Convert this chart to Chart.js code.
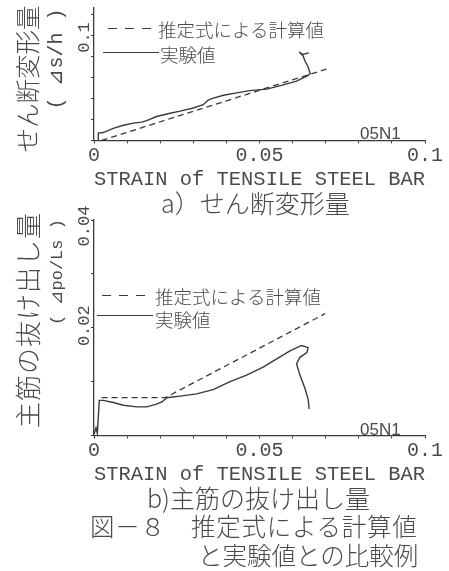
<!DOCTYPE html>
<html><head><meta charset="utf-8">
<script src="https://cdn.jsdelivr.net/npm/chart.js@4.4.1/dist/chart.umd.min.js"></script>
<style>
html,body{margin:0;padding:0;background:#fff;}
body{width:449px;height:571px;overflow:hidden;position:relative;color:#4a4a4a;}
canvas{position:absolute;left:0;}
.t{position:absolute;white-space:nowrap;line-height:1;transform:translateY(-50%);z-index:2;}
.jp{font-family:"Noto Sans CJK JP",sans-serif;font-weight:300;}
.mono{font-family:"Liberation Mono",monospace;}
.rot{position:absolute;white-space:nowrap;line-height:1;transform:translate(-50%,-50%) rotate(-90deg);z-index:2;}
.dash{position:absolute;height:1.4px;background:repeating-linear-gradient(to right,#3a3a3a 0 9px,transparent 9px 17px);z-index:2;}
.solid{position:absolute;height:1.4px;background:#3a3a3a;z-index:2;}
</style>
</head><body>
<canvas id="cA" width="449" height="192" style="top:0"></canvas>
<canvas id="cB" width="449" height="287" style="top:200px"></canvas>

<!-- chart a texts -->
<div class="rot jp" style="left:27px;top:79px;font-size:24.5px;">せん断変形量</div>
<div class="rot mono" style="left:57px;top:59px;font-size:20px;">( ⊿s/h )</div>
<div class="dash" style="left:108px;top:28px;width:48px;"></div>
<div class="t jp" style="left:158px;top:29px;font-size:18.5px;">推定式による計算値</div>
<div class="solid" style="left:103px;top:52px;width:56px;"></div>
<div class="t jp" style="left:160px;top:54px;font-size:18.5px;">実験値</div>
<div class="t" style="left:360px;top:133px;font-size:17px;font-family:'Liberation Sans',sans-serif;">05N1</div>
<div class="t jp" style="left:161px;top:202px;font-size:25px;">a）せん断変形量</div>

<!-- chart b texts -->
<div class="rot jp" style="left:27px;top:320px;font-size:26px;letter-spacing:1px;">主筋の抜け出し量</div>
<div class="rot mono" style="left:57px;top:272px;font-size:17px;">( ⊿po/Ls )</div>
<div class="dash" style="left:102px;top:295px;width:51px;"></div>
<div class="t jp" style="left:155px;top:296px;font-size:18.5px;">推定式による計算値</div>
<div class="solid" style="left:97px;top:315px;width:56px;"></div>
<div class="t jp" style="left:155px;top:319px;font-size:18.5px;">実験値</div>
<div class="t" style="left:360px;top:429px;font-size:17px;font-family:'Liberation Sans',sans-serif;">05N1</div>
<div class="t jp" style="left:147px;top:497px;font-size:25px;">b)主筋の抜け出し量</div>
<div class="t jp" style="left:90px;top:526px;font-size:24.5px;letter-spacing:0.75px;">図－８　推定式による計算値</div>
<div class="t jp" style="left:198px;top:555px;font-size:24.5px;">と実験値との比較例</div>

<script>
// ---------- data ----------
const xTickValues = [0, 0.05, 0.1];
const xTickLabels = ['0', '0.05', '0.1'];
const xTitle = 'STRAIN of TENSILE STEEL BAR';

// a) shear deformation
const yTickValuesA = [0.1];
const yTickLabelsA = ['0.1'];
const strainA_est = [0.0023, 0.0707];
const shearA_est  = [0.0000, 0.0685];
const strainA_exp = [0.0013,0.0013,0.0028,0.0058,0.0089,0.0119,0.0144,0.0159,0.0189,0.0230,0.0260,0.0300,0.0330,0.0345,0.0356,0.0391,0.0431,0.0471,0.0522,0.0572,0.0612,0.0647,0.0653,0.0647,0.0637,0.0632,0.0620,0.0630,0.0649];
const shearA_exp  = [0.0003,0.0069,0.0075,0.0114,0.0144,0.0165,0.0174,0.0189,0.0228,0.0259,0.0279,0.0309,0.0340,0.0385,0.0399,0.0430,0.0453,0.0475,0.0489,0.0529,0.0565,0.0619,0.0640,0.0700,0.0759,0.0805,0.0843,0.0820,0.0835];

// b) pull-out of main bar
const yTickValuesB = [0.02, 0.04];
const yTickLabelsB = ['0.02', '0.04'];
const strainB_est = [0.0023, 0.0215, 0.0698];
const slipB_est   = [0.0070, 0.0070, 0.0226];
const strainB_exp = [0.0000,0.0006,0.0010,0.0016,0.0028,0.0058,0.0089,0.0129,0.0159,0.0189,0.0205,0.0220,0.0260,0.0310,0.0360,0.0411,0.0461,0.0511,0.0552,0.0592,0.0627,0.0647,0.0643,0.0622,0.0612,0.0622,0.0637,0.0647,0.0650];
const slipB_exp   = [0.0002,0.0014,0.0004,0.0065,0.0065,0.0061,0.0056,0.0053,0.0053,0.0058,0.0062,0.0070,0.0073,0.0077,0.0085,0.0100,0.0112,0.0127,0.0142,0.0157,0.0167,0.0163,0.0154,0.0145,0.0133,0.0112,0.0088,0.0067,0.0049];

// ---------- drawing ----------
const INK = '#3a3a3a';
const pts = (xs, ys) => xs.map((x, i) => ({x, y: ys[i]}));

const yLabelPlugin = {
  id: 'yLabels',
  afterDraw(chart, args, opts) {
    const {ctx} = chart;
    const ys = chart.scales.y;
    ctx.save();
    ctx.fillStyle = '#4a4a4a';
    ctx.font = '17px "Liberation Mono", monospace';
    ctx.textAlign = 'center';
    ctx.textBaseline = 'middle';
    opts.values.forEach((v, i) => {
      const py = ys.getPixelForValue(v) + (opts.dy[i] || 0);
      ctx.save();
      ctx.translate(opts.x, py);
      ctx.rotate(-Math.PI / 2);
      ctx.fillText(opts.labels[i], 0, 0);
      ctx.restore();
    });
    ctx.restore();
  }
};

function makeChart(id, est, exp, yMax, yStep, padTop, yVals, yLabs, yDy) {
  return new Chart(document.getElementById(id), {
    type: 'scatter',
    data: {
      datasets: [
        {data: est, showLine: true, borderColor: INK, borderWidth: 1.3, borderDash: [6, 4], pointRadius: 0, tension: 0, fill: false},
        {data: exp, showLine: true, borderColor: INK, borderWidth: 1.4, pointRadius: 0, tension: 0, fill: false}
      ]
    },
    options: {
      responsive: false,
      animation: false,
      devicePixelRatio: 1,
      layout: {padding: {top: padTop, right: 24, bottom: 0, left: 0}},
      plugins: {
        legend: {display: false},
        tooltip: {enabled: false},
        yLabels: {values: yVals, labels: yLabs, x: 84, dy: yDy}
      },
      scales: {
        x: {
          type: 'linear', min: 0, max: 0.1,
          border: {display: true, color: INK, width: 1.3},
          grid: {display: true, drawOnChartArea: false, drawTicks: true, tickLength: 3, color: INK},
          ticks: {
            stepSize: 0.01, padding: 0, color: '#4a4a4a',
            autoSkip: false, maxRotation: 0, minRotation: 0,
            font: {family: '"Liberation Mono", monospace', size: 20},
            callback: (v) => {
              const k = xTickValues.findIndex(t => Math.abs(t - v) < 1e-9);
              return k >= 0 ? xTickLabels[k] : '';
            }
          },
          title: {display: true, text: xTitle, color: '#4a4a4a', padding: 0,
                  font: {family: '"Liberation Mono", monospace', size: 20.5, lineHeight: 1.2}}
        },
        y: {
          type: 'linear', min: 0, max: yMax,
          border: {display: true, color: INK, width: 1.3},
          grid: {display: true, drawOnChartArea: false, drawTicks: true, tickLength: 3, color: INK},
          ticks: {stepSize: yStep, includeBounds: false, callback: () => '', padding: 0},
          afterFit: (s) => { s.width = 94; }
        }
      }
    },
    plugins: [yLabelPlugin]
  });
}

makeChart('cA', pts(strainA_est, shearA_est), pts(strainA_exp, shearA_exp), 0.127, 0.02, 5, yTickValuesA, yTickLabelsA, [2]);
makeChart('cB', pts(strainB_est, slipB_est), pts(strainB_exp, slipB_exp), 0.04, 0.01, 20, yTickValuesB, yTickLabelsB, [-2, 6]);
</script>
</body></html>
